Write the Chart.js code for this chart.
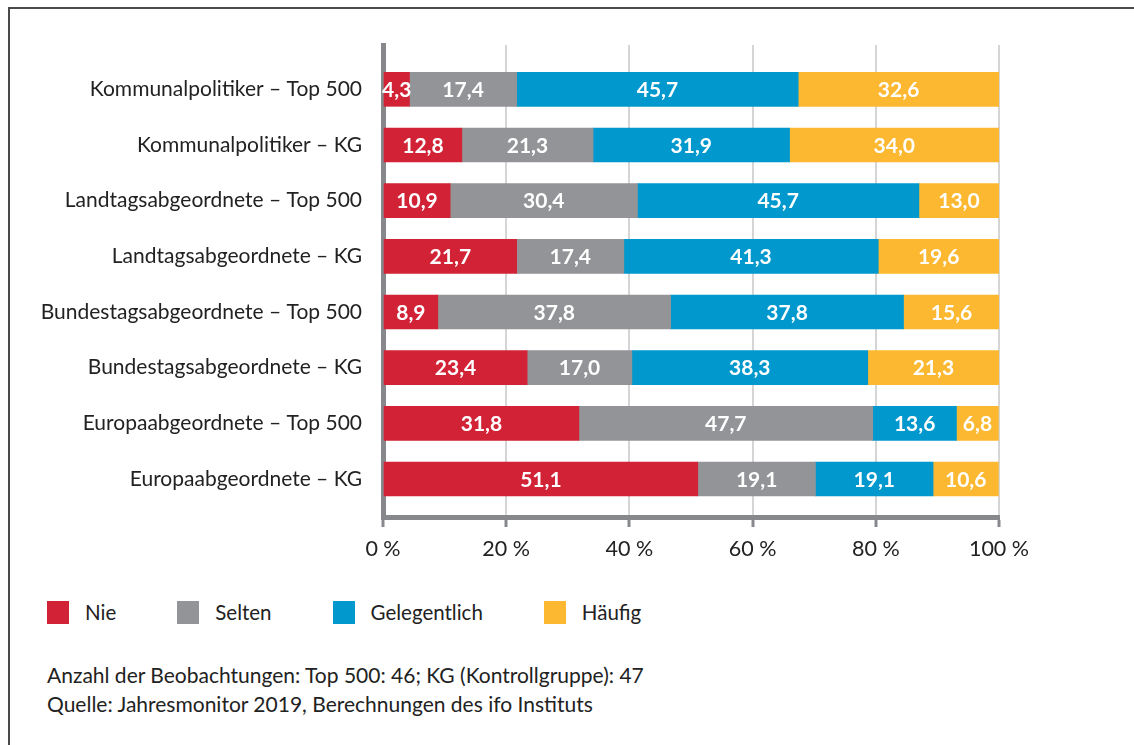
<!DOCTYPE html>
<html>
<head>
<meta charset="utf-8">
<script src="https://cdn.jsdelivr.net/npm/chart.js@4"></script>
<style>
  html, body { margin: 0; padding: 0; background: #fff; overflow: hidden; }
  body { width: 1134px; height: 745px; position: relative; font-family: Lato, "Open Sans", sans-serif; color: #222; }
  #frame { position: absolute; left: 8px; top: 7px; width: 1200px; height: 800px; border-top: 2px solid #4a4a4a; border-left: 2px solid #4a4a4a; box-sizing: border-box; }
  #chart { position: absolute; left: 0; top: 0; }
  #legend { position: absolute; left: 47px; top: 600px; display: flex; align-items: center; font-size: 20.5px; }
  .item { display: flex; align-items: center; margin-right: 61px; }
  .box { width: 22px; height: 23px; margin-right: 16px; }
  #notes { position: absolute; left: 47px; top: 660px; font-size: 21px; line-height: 29px; }
</style>
</head>
<body>
<div id="frame"></div>
<canvas id="chart" width="1134" height="580"></canvas>
<div id="legend"></div>
<div id="notes">Anzahl der Beobachtungen: Top 500: 46; KG (Kontrollgruppe): 47<br>Quelle: Jahresmonitor 2019, Berechnungen des ifo Instituts</div>
<script>
const categories = [
  "Kommunalpolitiker – Top 500",
  "Kommunalpolitiker – KG",
  "Landtagsabgeordnete – Top 500",
  "Landtagsabgeordnete – KG",
  "Bundestagsabgeordnete – Top 500",
  "Bundestagsabgeordnete – KG",
  "Europaabgeordnete – Top 500",
  "Europaabgeordnete – KG"
];
const nie          = [4.3, 12.8, 10.9, 21.7, 8.9, 23.4, 31.8, 51.1];
const selten       = [17.4, 21.3, 30.4, 17.4, 37.8, 17.0, 47.7, 19.1];
const gelegentlich = [45.7, 31.9, 45.7, 41.3, 37.8, 38.3, 13.6, 19.1];
const haeufig      = [32.6, 34.0, 13.0, 19.6, 15.6, 21.3, 6.8, 10.6];
const seriesNames  = ["Nie", "Selten", "Gelegentlich", "Häufig"];
const seriesColors = ["#d12236", "#939497", "#0098cd", "#fdb831"];
const xTicks       = [0, 20, 40, 60, 80, 100];

const seriesValues = [nie, selten, gelegentlich, haeufig];
const fmt = v => v.toFixed(1).replace('.', ',');

const valueLabels = {
  id: 'valueLabels',
  afterDatasetsDraw(chart) {
    const ctx = chart.ctx;
    ctx.save();
    ctx.font = 'bold 21px Lato, "Open Sans", sans-serif';
    ctx.fillStyle = '#ffffff';
    ctx.textAlign = 'center';
    ctx.textBaseline = 'middle';
    chart.data.datasets.forEach((ds, di) => {
      const meta = chart.getDatasetMeta(di);
      meta.data.forEach((el, i) => {
        const v = ds.data[i].x;
        ctx.fillText(fmt(v), (el.x + el.base) / 2, el.y + 1);
      });
    });
    ctx.restore();
  }
};

const chart = new Chart(document.getElementById('chart'), {
  type: 'bar',
  data: {
    datasets: seriesNames.map((name, k) => ({
      label: name,
      data: seriesValues[k].map((v, i) => ({ x: v, y: i })),
      backgroundColor: seriesColors[k],
      borderWidth: 0,
      barThickness: 34
    }))
  },
  options: {
    indexAxis: 'y',
    responsive: false,
    animation: false,
    layout: { padding: { top: 45, right: 135, left: 0, bottom: 0 } },
    plugins: { legend: { display: false }, tooltip: { enabled: false } },
    scales: {
      x: {
        type: 'linear',
        stacked: true,
        min: 0,
        max: 100,
        afterBuildTicks: s => { s.ticks = xTicks.map(v => ({ value: v })); },
        afterFit: s => { s.height = 63; },
        ticks: {
          callback: v => v + ' %',
          font: { family: 'Lato, "Open Sans", sans-serif', size: 21.5 },
          color: '#222',
          padding: 9
        },
        grid: { color: '#d5d5d5', lineWidth: 2, tickColor: '#87888b', tickWidth: 3, tickLength: 10 },
        border: { display: true, color: '#87888b', width: 5 }
      },
      y: {
        type: 'linear',
        stacked: true,
        reverse: true,
        offset: false,
        min: -0.796,
        max: 7.683,
        afterBuildTicks: s => { s.ticks = categories.map((c, i) => ({ value: i })); },
        afterFit: s => { s.width = 383; },
        ticks: {
          callback: v => categories[v],
          autoSkip: false,
          font: { family: 'Lato, "Open Sans", sans-serif', size: 21 },
          color: '#222',
          padding: 21
        },
        grid: { drawOnChartArea: false, drawTicks: false, offset: false },
        border: { display: true, color: '#87888b', width: 5 }
      }
    }
  },
  plugins: [valueLabels]
});

const legend = document.getElementById('legend');
chart.data.datasets.forEach(ds => {
  const item = document.createElement('div');
  item.className = 'item';
  const box = document.createElement('span');
  box.className = 'box';
  box.style.background = ds.backgroundColor;
  const txt = document.createElement('span');
  txt.textContent = ds.label;
  item.appendChild(box);
  item.appendChild(txt);
  legend.appendChild(item);
});
</script>
</body>
</html>
